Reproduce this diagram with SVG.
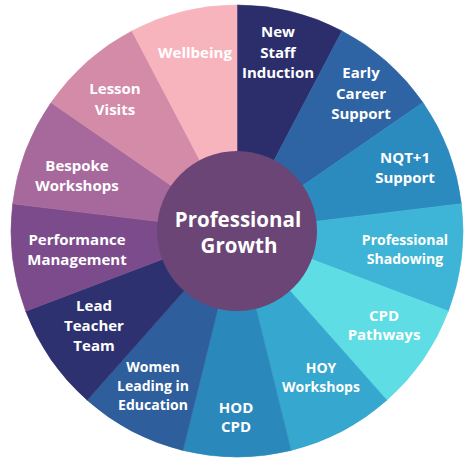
<svg xmlns="http://www.w3.org/2000/svg" width="474" height="465" viewBox="0 0 474 465">
<style>
.lbl{font-family:"Open Sans","Liberation Sans",sans-serif;font-weight:700;fill:#ffffff;text-anchor:middle;font-size:15px}
.sm{font-size:14px}
.ctr{font-size:20.5px}
</style>
<rect width="474" height="465" fill="#ffffff"/>
<g id="wedges">
<g id="new-staff-induction"><path d="M237,231 L237,5 A226,226 0 0 1 342.02,30.88 Z" fill="#2C2E6C" stroke="#2C2E6C" stroke-width="0.6"/>
<text class="lbl"><tspan x="278" y="37">New</tspan><tspan x="278" y="58">Staff</tspan><tspan x="278" y="78">Induction</tspan></text></g>
<g id="early-career-support"><path d="M237,231 L342.02,30.88 A226,226 0 0 1 423,102.61 Z" fill="#2E64A4" stroke="#2E64A4" stroke-width="0.6"/>
<text class="lbl"><tspan x="361" y="78">Early</tspan><tspan x="361" y="99">Career</tspan><tspan x="361" y="119">Support</tspan></text></g>
<g id="nqt1-support"><path d="M237,231 L423,102.61 A226,226 0 0 1 461.35,203.77 Z" fill="#2B8BBF" stroke="#2B8BBF" stroke-width="0.6"/>
<text class="lbl"><tspan x="405" y="163">NQT+1</tspan><tspan x="405" y="183">Support</tspan></text></g>
<g id="professional-shadowing"><path d="M237,231 L461.35,203.77 A226,226 0 0 1 448.31,311.14 Z" fill="#3EB5D6" stroke="#3EB5D6" stroke-width="0.6"/>
<text class="lbl sm"><tspan x="405" y="245">Professional</tspan><tspan x="405" y="264">Shadowing</tspan></text></g>
<g id="cpd-pathways"><path d="M237,231 L448.31,311.14 A226,226 0 0 1 386.86,400.16 Z" fill="#5EDDE4" stroke="#5EDDE4" stroke-width="0.6"/>
<text class="lbl"><tspan x="384" y="321">CPD</tspan><tspan x="384" y="340">Pathways</tspan></text></g>
<g id="hoy-workshops"><path d="M237,231 L386.86,400.16 A226,226 0 0 1 291.08,450.42 Z" fill="#36A7CF" stroke="#36A7CF" stroke-width="0.6"/>
<text class="lbl sm"><tspan x="321" y="373">HOY</tspan><tspan x="321" y="392">Workshops</tspan></text></g>
<g id="hod-cpd"><path d="M237,231 L291.08,450.42 A226,226 0 0 1 182.92,450.42 Z" fill="#2B88BA" stroke="#2B88BA" stroke-width="0.6"/>
<text class="lbl"><tspan x="236" y="413">HOD</tspan><tspan x="236" y="432">CPD</tspan></text></g>
<g id="women-leading-in-education"><path d="M237,231 L182.92,450.42 A226,226 0 0 1 87.14,400.16 Z" fill="#2E5E9C" stroke="#2E5E9C" stroke-width="0.6"/>
<text class="lbl sm"><tspan x="153" y="372">Women</tspan><tspan x="153" y="391">Leading in</tspan><tspan x="153" y="410">Education</tspan></text></g>
<g id="lead-teacher-team"><path d="M237,231 L87.14,400.16 A226,226 0 0 1 25.69,311.14 Z" fill="#2E3170" stroke="#2E3170" stroke-width="0.6"/>
<text class="lbl"><tspan x="94" y="311">Lead</tspan><tspan x="94" y="331">Teacher</tspan><tspan x="94" y="351">Team</tspan></text></g>
<g id="performance-management"><path d="M237,231 L25.69,311.14 A226,226 0 0 1 12.65,203.77 Z" fill="#7C4B8C" stroke="#7C4B8C" stroke-width="0.6"/>
<text class="lbl"><tspan x="77" y="245">Performance</tspan><tspan x="77" y="265">Management</tspan></text></g>
<g id="bespoke-workshops"><path d="M237,231 L12.65,203.77 A226,226 0 0 1 51,102.61 Z" fill="#A7699C" stroke="#A7699C" stroke-width="0.6"/>
<text class="lbl"><tspan x="77" y="171">Bespoke</tspan><tspan x="77" y="191">Workshops</tspan></text></g>
<g id="lesson-visits"><path d="M237,231 L51,102.61 A226,226 0 0 1 131.98,30.88 Z" fill="#D48BA8" stroke="#D48BA8" stroke-width="0.6"/>
<text class="lbl"><tspan x="115" y="94">Lesson</tspan><tspan x="115" y="115">Visits</tspan></text></g>
<g id="wellbeing"><path d="M237,231 L131.98,30.88 A226,226 0 0 1 237,5 Z" fill="#F8B4BD" stroke="#F8B4BD" stroke-width="0.6"/>
<text class="lbl"><tspan x="195" y="58">Wellbeing</tspan></text></g>
</g>
<g id="connectors"></g>
<g id="professional-growth">
<circle cx="237" cy="231" r="80" fill="#6A4575"/>
<text class="lbl ctr"><tspan x="238" y="227">Professional</tspan><tspan x="239" y="253">Growth</tspan></text>
</g>
</svg>
